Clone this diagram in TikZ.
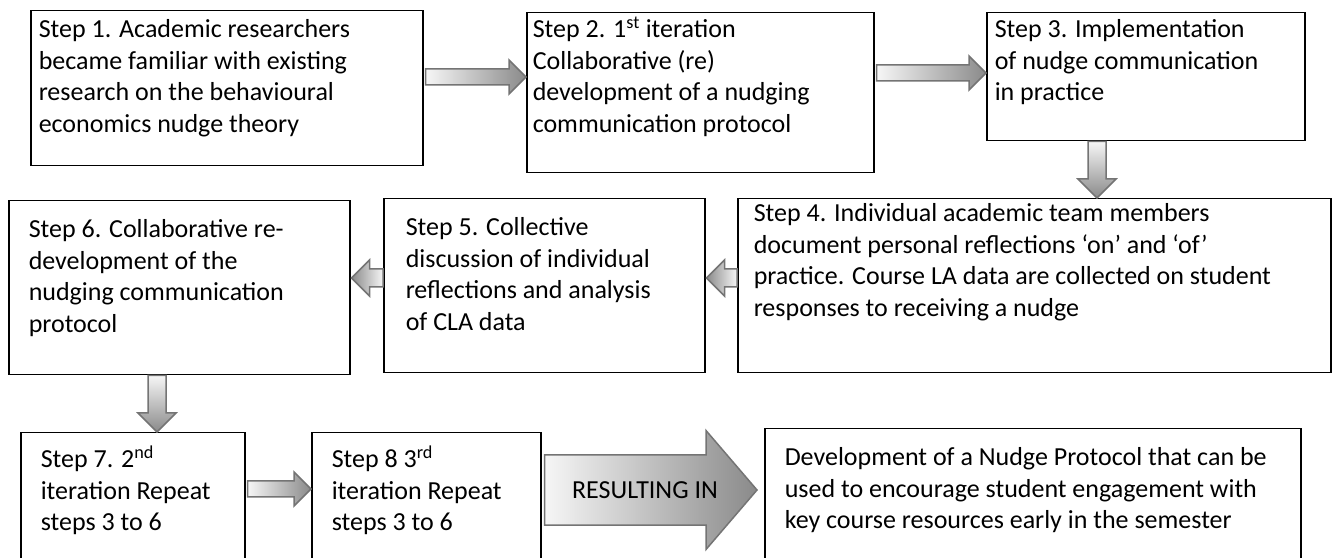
\documentclass[tikz,border=0pt]{standalone}
\usepackage{fontspec}
\setmainfont{Carlito}
\usetikzlibrary{positioning,calc}
\definecolor{flowlight}{HTML}{F6F6F6}
\definecolor{flowdark}{HTML}{8A8A8A}
\definecolor{flowline}{HTML}{747474}
\tikzset{
	stepcell/.style={
		draw=black,
		line width=1.5pt,
		fill=white,
		anchor=north west,
		inner xsep=20pt,
		inner ysep=0pt,
		font=\fontsize{26}{31.5}\selectfont
	},
	flowarrow/.style={
		draw=flowline,
		line width=1.5pt,
		line join=miter
	}
}
% width, height, first baseline, text
\newcommand{\stepcontent}[4]{\parbox[t][#2][t]{#1}{\raggedright\rule{0pt}{#3}#4}}
% from node, to node, level
\newcommand{\flowright}[3]{%
	\path[flowarrow, left color=flowlight, right color=flowdark]
		let \p1=(#1.east), \p2=(#2.west) in
		(\x1+2pt,#3pt-8pt) -- (\x2-17pt,#3pt-8pt) -- (\x2-17pt,#3pt-17pt) -- (\x2,#3pt)
		-- (\x2-17pt,#3pt+17pt) -- (\x2-17pt,#3pt+8pt) -- (\x1+2pt,#3pt+8pt) -- cycle;}
\newcommand{\flowleft}[3]{%
	\path[flowarrow, left color=flowdark, right color=flowlight]
		let \p1=(#1.west), \p2=(#2.east) in
		(\x1,#3pt-9pt) -- (\x2+19pt,#3pt-9pt) -- (\x2+19pt,#3pt-18pt) -- (\x2+1pt,#3pt)
		-- (\x2+19pt,#3pt+18pt) -- (\x2+19pt,#3pt+9pt) -- (\x1,#3pt+9pt) -- cycle;}
\newcommand{\flowdown}[3]{%
	\path[flowarrow, top color=flowlight, bottom color=flowdark]
		let \p1=(#1.south), \p2=(#2.north) in
		(#3pt-9pt,\y1) -- (#3pt-9pt,\y2+19pt) -- (#3pt-19pt,\y2+19pt) -- (#3pt,\y2)
		-- (#3pt+19pt,\y2+19pt) -- (#3pt+9pt,\y2+19pt) -- (#3pt+9pt,\y1) -- cycle;}

\begin{document}
\begin{tikzpicture}[x=1pt, y=1pt]
	\useasboundingbox (0,0) rectangle (1336,557);
	\fill[white] (0,0) rectangle (1336,557);

	% first row
	\node[stepcell, inner xsep=8pt] (s1) at (30,547) {\stepcontent{376pt}{155pt}{27pt}{Step 1. Academic researchers\\became familiar with existing\\research on the behavioural\\economics nudge theory}};
	\node[stepcell, inner xsep=6pt] (s2) at (526,545) {\stepcontent{335pt}{160pt}{25pt}{Step 2. 1\textsuperscript{st} iteration\\Collaborative (re)\\development of a nudging\\communication protocol}};
	\node[stepcell, inner xsep=8pt] (s3) at (986,545) {\stepcontent{302pt}{128pt}{25pt}{Step 3. Implementation\\of nudge communication\\in practice}};

	% second row
	\node[stepcell, inner xsep=16pt] (s4) at (737,359) {\stepcontent{561pt}{174pt}{23pt}{Step 4. Individual academic team members\\document personal reflections ‘on’ and ‘of’\\practice. Course LA data are collected on student\\responses to receiving a nudge}};
	\node[stepcell, inner xsep=22pt] (s5) at (383,359) {\stepcontent{277pt}{174pt}{37pt}{Step 5. Collective\\discussion of individual\\reflections and analysis\\of CLA data}};
	\node[stepcell] (s6) at (8,357) {\stepcontent{301pt}{174pt}{37pt}{Step 6. Collaborative re-\\development of the\\nudging communication\\protocol}};

	% third row
	\node[stepcell] (s7) at (20,125) {\stepcontent{184pt}{135pt}{35pt}{Step 7. 2\textsuperscript{nd}\\iteration Repeat\\steps 3 to 6}};
	\node[stepcell] (s8) at (311,125) {\stepcontent{189pt}{135pt}{35pt}{Step 8 3\textsuperscript{rd}\\iteration Repeat\\steps 3 to 6}};
	\node[stepcell] (s9) at (764,129) {\stepcontent{496pt}{140pt}{37pt}{Development of a Nudge Protocol that can be\\used to encourage student engagement with\\key course resources early in the semester}};

	% block arrows
	\flowright{s1}{s2}{480}
	\flowright{s2}{s3}{484}
	\flowdown{s3}{s4}{1097}
	\flowleft{s4}{s5}{279}
	\flowleft{s5}{s6}{279}
	\flowdown{s6}{s7}{157}
	\flowright{s7}{s8}{68}

	\path[flowarrow, left color=flowlight, right color=flowdark]
		let \p1=(s8.east), \p2=(s9.west) in
		(\x1+3pt,32pt) -- (\x2-58pt,32pt) -- (\x2-58pt,7.5pt) -- (\x2-7pt,67pt)
		-- (\x2-58pt,126.5pt) -- (\x2-58pt,102pt) -- (\x1+3pt,102pt) -- cycle;
	\node[font=\fontsize{26}{31.5}\selectfont] (result) at (645,67) {RESULTING IN};
\end{tikzpicture}
\end{document}
